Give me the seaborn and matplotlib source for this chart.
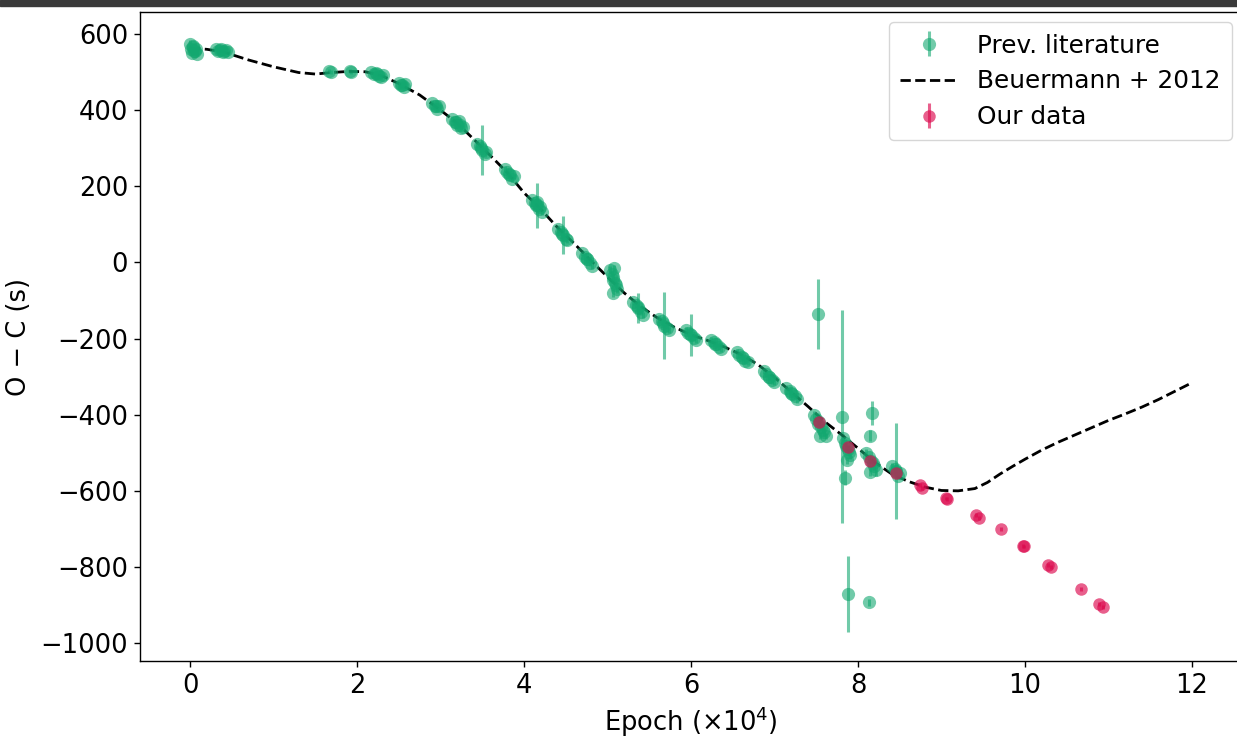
import numpy as np
import pandas as pd
import matplotlib
matplotlib.use("Agg")
import matplotlib.pyplot as plt
from matplotlib.patches import Rectangle
import seaborn as sns

# ---------------- data (epoch in units of 1e4, O-C in seconds) ----------------
lit_epoch = [0.00, 0.01, 0.02, 0.04, 0.05, 0.07, 0.08, 0.03, 0.06,
             0.31, 0.34, 0.37, 0.40, 0.43, 0.45, 0.36, 0.41,
             1.66, 1.69, 1.91, 1.93,
             2.17, 2.20, 2.23, 2.26, 2.29, 2.31, 2.24,
             2.50, 2.53, 2.56, 2.58, 2.54,
             2.90, 2.93, 2.96, 2.98, 2.94,
             3.14, 3.17, 3.20, 3.22, 3.25, 3.27, 3.19, 3.23,
             3.44, 3.47, 3.50, 3.53, 3.55, 3.49,
             3.77, 3.80, 3.83, 3.86, 3.88, 3.82,
             4.10, 4.13, 4.15, 4.18, 4.21, 4.16, 4.14, 4.19,
             4.41, 4.44, 4.47, 4.50, 4.52, 4.46,
             4.70, 4.73, 4.76, 4.79, 4.82, 4.75,
             5.03, 5.05, 5.07, 5.09, 5.11, 5.06, 5.08, 5.07, 5.10,
             5.31, 5.34, 5.37, 5.40, 5.42, 5.36,
             5.62, 5.65, 5.68, 5.71, 5.74, 5.67,
             5.94, 5.97, 6.00, 6.03, 6.06, 5.99,
             6.24, 6.27, 6.30, 6.33, 6.36, 6.29,
             6.55, 6.58, 6.62, 6.65, 6.68, 6.61,
             6.87, 6.90, 6.94, 6.97, 7.00, 6.93,
             7.14, 7.18, 7.21, 7.24, 7.27, 7.20,
             7.52,
             7.47, 7.50, 7.53, 7.56, 7.59, 7.62, 7.55, 7.52, 7.58,
             7.81, 7.82, 7.85, 7.88, 7.91, 7.87, 7.85, 7.86, 7.89,
             7.88, 8.13,
             8.17, 8.15, 8.10, 8.13, 8.16, 8.19, 8.22, 8.15, 8.18,
             8.41, 8.44, 8.45, 8.48, 8.50, 8.46]
lit_oc = [575, 562, 550, 568, 556, 560, 548, 565, 555,
          562, 555, 560, 552, 557, 553, 558, 555,
          503, 500, 503, 500,
          500, 496, 498, 491, 488, 493, 495,
          472, 466, 462, 468, 467,
          420, 412, 404, 410, 410,
          378, 370, 362, 372, 352, 356, 368, 360,
          312, 305, 295, 285, 290, 300,
          245, 238, 229, 220, 226, 232,
          165, 156, 150, 140, 132, 160, 152, 145,
          88, 80, 71, 62, 58, 74,
          25, 15, 8, -2, -10, 10,
          -20, -30, -45, -55, -70, -80, -15, -38, -60,
          -105, -112, -120, -130, -138, -118,
          -148, -155, -166, -172, -178, -160,
          -178, -184, -190, -198, -204, -188,
          -205, -210, -215, -222, -228, -214,
          -236, -242, -250, -258, -262, -248,
          -285, -292, -302, -310, -315, -300,
          -330, -338, -345, -352, -360, -342,
          -135,
          -400, -410, -420, -432, -445, -455, -455, -425, -440,
          -405, -460, -475, -490, -505, -520, -565, -482, -498,
          -870, -893,
          -396, -455, -500, -512, -522, -535, -545, -550, -528,
          -535, -542, -548, -560, -552, -550]
lit_err = [10, 8, 6, 6, 6, 6, 6, 8, 6,
           6, 6, 6, 5, 5, 5, 6, 6,
           6, 6, 6, 6,
           6, 6, 6, 6, 6, 6, 6,
           6, 5, 6, 6, 6,
           6, 6, 6, 6, 6,
           8, 6, 6, 6, 6, 6, 6, 6,
           10, 8, 66, 8, 8, 8,
           8, 10, 6, 8, 6, 8,
           8, 8, 60, 8, 8, 8, 8, 8,
           10, 8, 50, 8, 8, 8,
           8, 10, 8, 6, 6, 8,
           10, 8, 8, 8, 10, 10, 8, 8, 8,
           8, 8, 40, 8, 8, 8,
           10, 10, 88, 10, 8, 8,
           8, 8, 55, 8, 8, 8,
           8, 10, 8, 8, 8, 8,
           8, 10, 8, 8, 8, 8,
           8, 10, 8, 8, 8, 8,
           8, 10, 8, 8, 8, 8,
           92,
           10, 8, 10, 8, 10, 8, 10, 8, 8,
           280, 10, 10, 10, 12, 10, 20, 10, 10,
           100, 10,
           31, 15, 10, 10, 10, 10, 15, 10, 10,
           8, 10, 125, 10, 8, 8]

our_epoch = [7.53, 7.88, 8.15, 8.45, 8.74, 8.77, 9.06, 9.07, 9.41, 9.45, 9.71,
             9.98, 9.99, 10.28, 10.31, 10.67, 10.89, 10.94]
our_oc = [-420, -486, -521, -552, -585, -592, -620, -621, -663, -671, -700,
          -745, -746, -795, -800, -858, -897, -905]
our_err = [5] * len(our_epoch)

model_epoch = [0.0, 0.2, 0.4, 0.7, 1.0, 1.3, 1.5, 1.7, 1.9, 2.1, 2.3, 2.5,
               2.75, 3.0, 3.2, 3.4, 3.6, 3.8, 4.0, 4.2, 4.4, 4.6, 4.8, 5.0,
               5.2, 5.4, 5.6, 5.8, 6.0, 6.2, 6.4, 6.6, 6.8, 7.0, 7.2, 7.4,
               7.6, 7.8, 8.0, 8.2, 8.4, 8.6, 8.8, 9.0, 9.2, 9.4, 9.55, 9.7,
               9.85, 10.0, 10.2, 10.4, 10.6, 10.8, 11.0, 11.2, 11.4, 11.6,
               11.8, 12.0]
model_oc = [563, 560, 553, 532, 514, 499, 495, 499, 502, 501, 490, 470,
            440, 400, 366, 323, 280, 236, 183, 140, 92, 50, 5, -38,
            -80, -116, -146, -170, -190, -205, -222, -242, -268, -302, -340, -378,
            -418, -452, -488, -525, -555, -575, -590, -599, -600, -594, -578, -556,
            -536, -517, -493, -472, -453, -434, -415, -398, -380, -360,
            -338, -316]

labels = ["Prev. literature", "Beuermann + 2012", "Our data"]
xticks = [0, 2, 4, 6, 8, 10, 12]
yticks = [-1000, -800, -600, -400, -200, 0, 200, 400, 600]

# ---------------- style ----------------
sns.set_theme(style="ticks")
FS = 18.5
LFS = 17.8
plt.rcParams.update({
    "font.family": ["DejaVu Sans"],
    "text.color": "black",
    "axes.labelcolor": "black",
    "axes.edgecolor": "black",
    "xtick.color": "black",
    "ytick.color": "black",
    "axes.linewidth": 1.0,
    "xtick.major.size": 4.5,
    "ytick.major.size": 4.5,
    "xtick.major.width": 1.0,
    "ytick.major.width": 1.0,
    "font.size": FS,
    "mathtext.fontset": "dejavusans",
})

GREEN = "#13a870"
PINK = "#dc0a4e"

fig = plt.figure(figsize=(12.37, 7.39), dpi=100)
ax = fig.add_axes([140 / 1237, 78 / 739, 1102 / 1237, 649 / 739])

h_lit = ax.errorbar(lit_epoch, lit_oc, yerr=lit_err, fmt="o", color=GREEN,
                    alpha=0.6, ms=9.5, elinewidth=2.2, capsize=0, mec="none")

model_df = pd.DataFrame({"epoch": model_epoch, "oc": model_oc})
sns.lineplot(data=model_df, x="epoch", y="oc", ax=ax, color="black",
             linestyle="--", linewidth=2.0, sort=False)
h_model = ax.lines[-1]

h_our = ax.errorbar(our_epoch, our_oc, yerr=our_err, fmt="o", color=PINK,
                    alpha=0.65, ms=9, elinewidth=2.2, capsize=0, mec="none")

ax.set_xlim(-0.6, 12.6)
ax.set_ylim(-1047, 658)
ax.set_xticks(xticks)
ax.set_yticks(yticks)
ax.tick_params(labelsize=FS, pad=4)
ax.set_xlabel("Epoch (×10$^{4}$)", fontsize=FS, labelpad=4)
ax.set_ylabel("O − C (s)", fontsize=FS, labelpad=6)

ax.legend([h_lit, h_model, h_our], labels, loc="upper right", fontsize=LFS,
          frameon=True, borderaxespad=0.42, borderpad=0.45, labelspacing=0.48,
          handlelength=2.3, handletextpad=0.8)

# dark strip at the top of the screenshot
fig.patches.append(Rectangle((0, 1 - 6 / 739), 1, 6 / 739, transform=fig.transFigure,
                             color="#3a3a3a", zorder=10))

fig.savefig("out.png", dpi=100)
